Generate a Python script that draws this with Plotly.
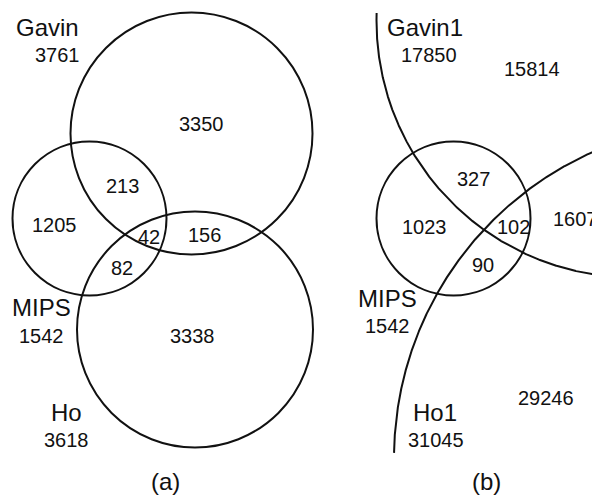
import numpy as np
import plotly.graph_objects as go

# ---------------- data ----------------
# Panel (a)
set_names_a = ["Gavin", "MIPS", "Ho"]
set_totals_a = [3761, 1542, 3618]
regions_a = ["Gavin only", "MIPS only", "Ho only", "Gavin&MIPS", "MIPS&Ho", "Gavin&Ho", "all"]
counts_a = [3350, 1205, 3338, 213, 82, 156, 42]

# Panel (b)
set_names_b = ["Gavin1", "MIPS", "Ho1"]
set_totals_b = [17850, 1542, 31045]
regions_b = ["Gavin1 only", "MIPS only", "Ho1 only", "Gavin1&MIPS", "MIPS&Ho1", "Gavin1&Ho1", "all"]
counts_b = [15814, 1023, 29246, 327, 90, 1607, 102]

panel_labels = ["(a)", "(b)"]

# ---------------- layout (positions in page-pixel-like data units) ----------------
W, H = 600, 495
OFF = 8  # page body margin compensation
circles_a = [(191.5, 133.5, 121.0), (89.5, 218.5, 77.0), (195.0, 329.5, 118.0)]
mips_b = (453.5, 218.5, 77.0)
gavin1_arc = (633.0, 21.0, 256.5)
ho1_arc = (729.0, 458.0, 335.0)
arc_clip = dict(xmin=364, xmax=600, ymin=13, ymax=453)

name_pos_a = [(47, 27), (41, 307.5), (66, 412.5)]
total_pos_a = [(57, 54.5), (41, 335.5), (66, 439.5)]
region_pos_a = [(201, 124), (54, 224.5), (192, 335.5), (122.5, 186), (122, 267.5), (204.5, 234.5), (149, 236.5)]

name_pos_b = [(425, 27), (387, 298), (435, 412.5)]
total_pos_b = [(428.5, 54.5), (387, 326), (435.5, 439.5)]
region_pos_b = [(531.5, 68.5), (424, 227), (546, 397.5), (473.5, 178.5), (482.5, 264.5), (575, 218.5), (513, 226.5)]

panel_pos = [(165, 481), (486, 481)]

FONT = "Liberation Sans, Arial, sans-serif"
INK = "#111111"
LW = 2

fig = go.Figure()

shapes = []
for cx, cy, r in circles_a + [mips_b]:
    shapes.append(dict(type="circle", xref="x", yref="y",
                       x0=cx - r, x1=cx + r, y0=cy - r, y1=cy + r,
                       line=dict(color=INK, width=LW)))

theta = np.linspace(0, 2 * np.pi, 6000)
for cx, cy, r in (gavin1_arc, ho1_arc):
    xs = cx + r * np.cos(theta)
    ys = cy + r * np.sin(theta)
    m = (xs >= arc_clip["xmin"]) & (xs <= arc_clip["xmax"]) & (ys >= arc_clip["ymin"]) & (ys <= arc_clip["ymax"])
    idx = np.where(m)[0]
    fig.add_trace(go.Scatter(x=xs[idx], y=ys[idx], mode="lines",
                             line=dict(color=INK, width=LW), hoverinfo="skip",
                             showlegend=False, cliponaxis=False))

ann = []
def add_text(x, y, s, size):
    ann.append(dict(x=x, y=y, xref="x", yref="y", text=str(s), showarrow=False,
                    xanchor="center", yanchor="middle",
                    font=dict(family=FONT, size=size, color=INK)))

for names, totals, counts, npos, tpos, rpos in (
        (set_names_a, set_totals_a, counts_a, name_pos_a, total_pos_a, region_pos_a),
        (set_names_b, set_totals_b, counts_b, name_pos_b, total_pos_b, region_pos_b)):
    for s, p in zip(names, npos):
        add_text(p[0], p[1], s, 24)
    for v, p in zip(totals, tpos):
        add_text(p[0], p[1], v, 20)
    for v, p in zip(counts, rpos):
        add_text(p[0], p[1], v, 20)

for s, p in zip(panel_labels, panel_pos):
    add_text(p[0], p[1], s, 24)

fig.update_layout(
    width=W, height=H,
    margin=dict(l=0, r=0, t=0, b=0),
    paper_bgcolor="white", plot_bgcolor="white",
    shapes=shapes, annotations=ann,
    xaxis=dict(range=[OFF, W + OFF], visible=False, fixedrange=True),
    yaxis=dict(range=[H + OFF, OFF], visible=False, fixedrange=True),
    showlegend=False,
)

fig.write_html("out.html")
